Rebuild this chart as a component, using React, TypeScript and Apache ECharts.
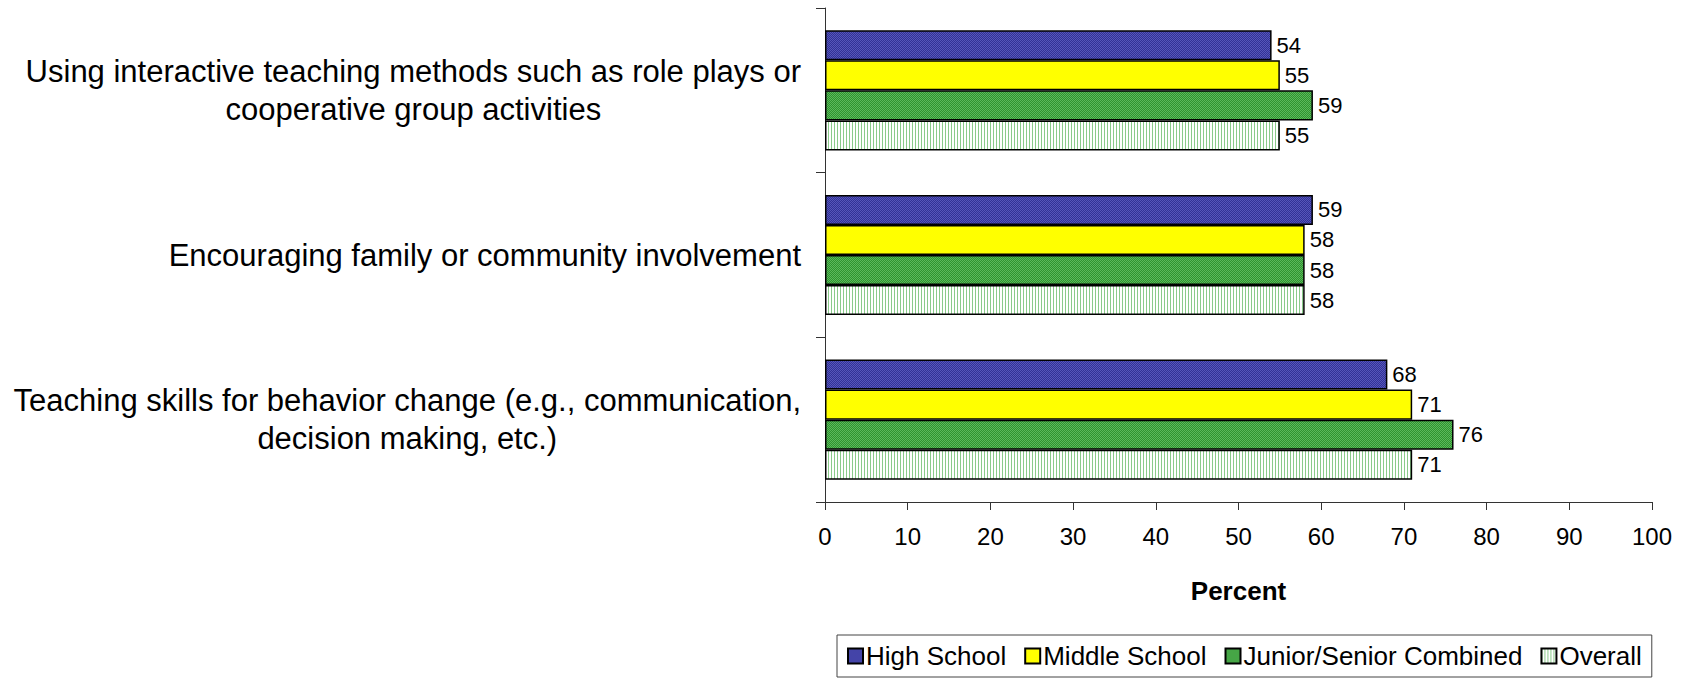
import React, { useEffect, useRef } from "react";
import * as echarts from "echarts";

const categories = [
  "Using interactive teaching methods such as role plays or\ncooperative group activities",
  "Encouraging family or community involvement",
  "Teaching skills for behavior change (e.g., communication,\ndecision making, etc.)",
];
const seriesNames = ["High School", "Middle School", "Junior/Senior Combined", "Overall"];
const highSchool = [54, 59, 68];
const middleSchool = [55, 58, 71];
const juniorSenior = [59, 58, 76];
const overall = [55, 58, 71];
const xMin = 0;
const xMax = 100;
const xInterval = 10;
const axisTitle = "Percent";

const FONT = '"Liberation Sans", Arial, Helvetica, sans-serif';

function makePattern(w: number, h: number, draw: (ctx: CanvasRenderingContext2D) => void) {
  const c = document.createElement("canvas");
  c.width = w;
  c.height = h;
  const ctx = c.getContext("2d") as CanvasRenderingContext2D;
  draw(ctx);
  return { image: c, repeat: "repeat" } as any;
}

export default function App() {
  const ref = useRef<HTMLDivElement>(null);
  useEffect(() => {
    if (!ref.current) return;
    const chart = echarts.init(ref.current, undefined, { renderer: "svg" });

    const bluePat = makePattern(2, 2, (ctx) => {
      ctx.fillStyle = "#323296";
      ctx.fillRect(0, 0, 2, 2);
      ctx.fillStyle = "#5656ba";
      ctx.fillRect(0, 0, 1, 1);
      ctx.fillRect(1, 1, 1, 1);
    });
    const yellow = "#ffff00";
    const greenPat = makePattern(2, 2, (ctx) => {
      ctx.fillStyle = "#2f942f";
      ctx.fillRect(0, 0, 2, 2);
      ctx.fillStyle = "#5cb85c";
      ctx.fillRect(0, 0, 1, 1);
      ctx.fillRect(1, 1, 1, 1);
    });
    const overallPat = makePattern(3, 3, (ctx) => {
      ctx.fillStyle = "#ffffff";
      ctx.fillRect(0, 0, 3, 3);
      ctx.fillStyle = "#8acb8a";
      ctx.fillRect(0, 0, 1, 3);
    });

    const values = [highSchool, middleSchool, juniorSenior, overall];
    const fills = [bluePat, yellow, greenPat, overallPat];

    const series = seriesNames.map((name, i) => ({
      name,
      type: "bar",
      data: values[i],
      barGap: "0%",
      barCategoryGap: "27%",
      itemStyle: { color: fills[i], borderColor: "#000", borderWidth: 1.5 },
      label: {
        show: true,
        position: "right",
        distance: 5,
        color: "#000",
        fontSize: 22,
        fontFamily: FONT,
      },
    }));

    chart.setOption({
      animation: false,
      backgroundColor: "#fff",
      textStyle: { fontFamily: FONT },
      grid: { left: 825, right: 36, top: 8, bottom: 178, containLabel: false },
      legend: {
        data: seriesNames,
        left: 837,
        top: 635,
        orient: "horizontal",
        icon: "rect",
        itemWidth: 15,
        itemHeight: 15,
        itemGap: 18,
        padding: [8, 10, 8, 10],
        borderColor: "#444",
        borderWidth: 1,
        textStyle: { fontSize: 26, color: "#000", fontFamily: FONT, padding: [0, 0, 0, -2] },
      },
      xAxis: {
        type: "value",
        min: xMin,
        max: xMax,
        interval: xInterval,
        name: axisTitle,
        nameLocation: "middle",
        nameGap: 76,
        nameTextStyle: { fontSize: 26, fontWeight: "bold", color: "#000", fontFamily: FONT },
        axisLine: { show: true, lineStyle: { color: "#333", width: 1 } },
        axisTick: { show: true, inside: false, length: 8, lineStyle: { color: "#333" } },
        axisLabel: { color: "#000", fontSize: 24, margin: 22, fontFamily: FONT },
        splitLine: { show: false },
      },
      yAxis: {
        type: "category",
        inverse: true,
        data: categories,
        axisLine: { show: true, lineStyle: { color: "#333", width: 1 } },
        axisTick: { show: true, inside: false, length: 9, alignWithLabel: false, lineStyle: { color: "#333" } },
        axisLabel: {
          margin: 24,
          align: "right",
          color: "#000",
          formatter: (v: string) => v.split("\n").map((s) => `{c|${s}}`).join("\n"),
          rich: {
            c: { align: "center", fontSize: 31, lineHeight: 38, color: "#000", fontFamily: FONT },
          },
        },
        splitLine: { show: false },
      },
      series,
    } as any);

    return () => chart.dispose();
  }, []);

  return (
    <div
      ref={ref}
      style={{ position: "fixed", left: 0, top: 0, width: 1688, height: 680, background: "#fff" }}
    />
  );
}
